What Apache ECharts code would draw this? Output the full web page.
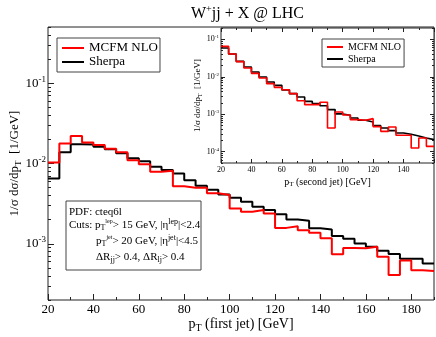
<!DOCTYPE html>
<html><head><meta charset="utf-8">
<script src="https://cdn.jsdelivr.net/npm/echarts@6/dist/echarts.min.js"></script>
<style>html,body{margin:0;padding:0;background:#fff}#c{width:436px;height:337px}</style>
</head><body><div id="c"></div>
<script>
// ---- data ----
const mainEdges = [20,25,30,35,40,45,50,55,60,65,70,75,80,85,90,95,100,105,110,115,120,125,130,135,140,145,150,155,160,165,170,175,180,185,190];
const mainMCFM = [0.0103,0.0178,0.0220,0.0183,0.0170,0.0153,0.0138,0.0110,0.0098,0.0079,0.0081,0.0052,0.0050,0.0050,0.00425,0.00405,0.00276,0.00251,0.00263,0.00239,0.00158,0.00166,0.00148,0.00137,0.00117,0.00074,0.00089,0.00088,0.00092,0.00069,0.00041,0.00062,0.00047,0.00046];
const mainSherpa = [0.0065,0.0138,0.0173,0.0172,0.0162,0.0150,0.0134,0.0116,0.0107,0.0091,0.0083,0.0075,0.0062,0.0053,0.0047,0.0041,0.00374,0.00334,0.00289,0.00263,0.00234,0.00201,0.00194,0.00156,0.00151,0.00125,0.00116,0.00101,0.00092,0.00082,0.000745,0.00065,0.00065,0.00057];
const insetEdges = [20,25,30,35,40,45,50,55,60,65,70,75,80,85,90,95,100,105,110,115,120,125,130,135,140,145,150,155,160];
const insetMCFM = [0.0648,0.0404,0.0253,0.0171,0.01234,0.00926,0.00654,0.00522,0.00452,0.00354,0.00230,0.00180,0.00180,0.00208,0.00043,0.00115,0.000955,0.000717,0.000689,0.000763,0.000467,0.000350,0.000457,0.000274,0.000274,0.000126,0.000233,0.000139];
const insetSherpa = [0.0584,0.0404,0.0258,0.0182,0.01338,0.00985,0.00725,0.00590,0.00443,0.00354,0.00288,0.00221,0.00192,0.00169,0.00133,0.00102,0.000935,0.000794,0.000689,0.000621,0.000496,0.000430,0.000365,0.000316,0.000291,0.000263,0.000233,0.000210];
const seriesNames = ['MCFM NLO','Sherpa'];
const mainXTicks = [20,40,60,80,100,120,140,160,180];
const mainXMinor = [30,50,70,90,110,130,150,170,190];
const mainYTicks = [1e-3,1e-2,1e-1];
const insetXTicks = [20,40,60,80,100,120,140,160];
const insetXMinor = [30,50,70,90,110,130,150];
const insetXLabels = [20,40,60,80,100,120,140];
const insetYTicks = [1e-4,1e-3,1e-2,1e-1];

const F = 'Liberation Serif';
const FRAME = '#222';
function logMinor(lo, hi){ const out=[]; for(let e=lo;e<=hi;e++){ for(let m=2;m<=9;m++){ out.push(m*Math.pow(10,e)); } } return out; }
function stepData(edges, vals){ const d = vals.map((v,i)=>[edges[i], v]); d.push([edges[edges.length-1], vals[vals.length-1]]); return d; }
function powLabel(v){ const e = Math.round(Math.log10(v)); return '{b|10}{s|' + e + '}'; }
function numLabel(v){ return '{v|' + v + '}'; }

const chart = echarts.init(document.getElementById('c'), null, {renderer:'canvas'});
const base = {type:'value', axisLine:{onZero:false, lineStyle:{color:FRAME, width:1}}, splitLine:{show:false}, nameMoveOverlap:false};
function xAx(grid, min, max, pos, ticks, len, labels, fs, extra){
  return Object.assign({}, base, {gridIndex:grid, min:min, max:max, position:pos,
    axisLine:{show:false, onZero:false},
    axisTick:{show:true, inside:true, length:len, customValues:ticks, lineStyle:{color:FRAME, width:1}},
    axisLabel: labels ? {show:true, customValues:labels, fontFamily:F, fontSize:fs, color:'#000', margin:3,
      formatter:numLabel, rich:{v:{fontFamily:F, fontSize:fs, color:'#000'}}} : {show:false}
  }, extra||{});
}
function yAx(grid, min, max, pos, ticks, len, labels, fs, extra){
  return Object.assign({}, base, {type:'log', logBase:10, gridIndex:grid, min:min, max:max, position:pos,
    axisLine:{show:false, onZero:false},
    axisTick:{show:true, inside:true, length:len, customValues:ticks, lineStyle:{color:FRAME, width:1}},
    axisLabel: labels ? {show:true, customValues:labels, margin:2, formatter:powLabel, fontFamily:F,
      rich:{b:{fontFamily:F, fontSize:fs, color:'#000'}, s:{fontFamily:F, fontSize:Math.round(fs*0.68), color:'#000', padding:[0,0,Math.round(fs*0.6),0]}}} : {show:false}
  }, extra||{});
}
const nameRich = (fs)=>({n:{fontFamily:F, fontSize:fs, color:'#000'}, sub:{fontFamily:F, fontSize:Math.round(fs*0.7), color:'#000', padding:[Math.round(fs*0.5),0,0,0]}});

const mainYMin = 2e-4, mainYMax = 0.5, insetYMin = 5e-5, insetYMax = 0.2;

const option = {
  animation:false,
  backgroundColor:'#fff',
  textStyle:{fontFamily:F, color:'#000'},
  title:{text:'W{s|+}jj + X @ LHC', left:186, top:-1,
    textStyle:{fontFamily:F, fontSize:16, fontWeight:'normal', color:'#000',
      rich:{s:{fontFamily:F, fontSize:10, color:'#000', padding:[0,0,9,0]}}}},
  grid:[
    {left:48, top:27, width:386, height:273, show:true, borderColor:FRAME, borderWidth:1, backgroundColor:'transparent', outerBoundsMode:'none', containLabel:false},
    {left:221, top:28, width:213, height:135, show:true, borderColor:FRAME, borderWidth:1, backgroundColor:'#fff', outerBoundsMode:'none', containLabel:false, z:5}
  ],
  legend:[
    {data:seriesNames, left:57, top:38, orient:'vertical', padding:[3,2,3,5], icon:'rect', itemWidth:22, itemHeight:2, itemGap:0,
     formatter:'{n|{name}}',
     borderColor:'#444', borderWidth:1, backgroundColor:'#fff', textStyle:{fontFamily:F, fontSize:13, color:'#000', lineHeight:14, rich:{n:{fontFamily:F, fontSize:13, color:'#000', lineHeight:14}}}},
    {data:seriesNames, left:322, top:39, orient:'vertical', padding:[2,3,2,5], icon:'rect', itemWidth:16, itemHeight:2, itemGap:0,
     formatter:'{n|{name}}',
     borderColor:'#444', borderWidth:1, backgroundColor:'#fff', textStyle:{fontFamily:F, fontSize:10, color:'#000', lineHeight:12, rich:{n:{fontFamily:F, fontSize:10, color:'#000', lineHeight:12}}}, z:20}
  ],
  xAxis:[
    xAx(0,20,190,'bottom',mainXTicks,6,mainXTicks,13,{name:'{n|p}{sub|T}{n| (first jet) [GeV]}', nameLocation:'middle', nameGap:16, nameTextStyle:{fontFamily:F, rich:nameRich(14)}}),
    xAx(0,20,190,'bottom',mainXMinor,3,null,13),
    xAx(1,20,160,'bottom',insetXTicks,4,insetXLabels,8,{name:'{n|p}{sub|T}{n| (second jet) [GeV]}', nameLocation:'middle', nameGap:13, nameTextStyle:{fontFamily:F, rich:nameRich(10)}, z:6}),
    xAx(1,20,160,'bottom',insetXMinor,2,null,8,{z:6}),
    xAx(1,20,160,'top',insetXTicks,4,null,8,{z:6}),
    xAx(1,20,160,'top',insetXMinor,2,null,8,{z:6})
  ],
  yAxis:[
    yAx(0,mainYMin,mainYMax,'left',mainYTicks,6,mainYTicks,13,{name:'{n|1/σ dσ/dp}{sub|T}{n|  [1/GeV]}', nameLocation:'middle', nameGap:25, nameTextStyle:{fontFamily:F, rich:nameRich(13)}}),
    yAx(0,mainYMin,mainYMax,'left',logMinor(-4,-1),3,null,13),
    yAx(1,insetYMin,insetYMax,'left',insetYTicks,4,insetYTicks,8,{name:'{n|1/σ dσ/dp}{sub|T}{n|  [1/GeV]}', nameLocation:'middle', nameGap:18, nameTextStyle:{fontFamily:F, rich:nameRich(9)}, z:6}),
    yAx(1,insetYMin,insetYMax,'left',logMinor(-5,-1),2,null,8,{z:6}),
    yAx(1,insetYMin,insetYMax,'right',insetYTicks,4,null,8,{z:6}),
    yAx(1,insetYMin,insetYMax,'right',logMinor(-5,-1),2,null,8,{z:6})
  ],
  series:[
    {type:'line', name:'Sherpa', xAxisIndex:0, yAxisIndex:0, step:'end', symbol:'none', data:stepData(mainEdges, mainSherpa), lineStyle:{color:'#000', width:2}, itemStyle:{color:'#000'}, z:2},
    {type:'line', name:'MCFM NLO', xAxisIndex:0, yAxisIndex:0, step:'end', symbol:'none', data:stepData(mainEdges, mainMCFM), lineStyle:{color:'#ff0000', width:2}, itemStyle:{color:'#ff0000'}, z:3},
    {type:'line', name:'Sherpa', xAxisIndex:2, yAxisIndex:2, step:'end', symbol:'none', data:stepData(insetEdges, insetSherpa), lineStyle:{color:'#000', width:1.6}, itemStyle:{color:'#000'}, z:7},
    {type:'line', name:'MCFM NLO', xAxisIndex:2, yAxisIndex:2, step:'end', symbol:'none', data:stepData(insetEdges, insetMCFM), lineStyle:{color:'#ff0000', width:1.6}, itemStyle:{color:'#ff0000'}, z:8}
  ],
  graphic:[
    {type:'rect', shape:{x:66, y:201, width:135, height:69}, style:{fill:'#fff', stroke:'#444', lineWidth:1}, z:10},
    {type:'text', x:69, y:212, z:11, style:{text:'{n|PDF: cteq6l}', verticalAlign:'middle', rich:boxRich()}},
    {type:'text', x:69, y:225, z:11, style:{text:'{n|Cuts: p}{sub|T}{tiny|lep}{n|> 15 GeV, |η}{sup|lep}{n||<2.4}', verticalAlign:'middle', rich:boxRich()}},
    {type:'text', x:96, y:241, z:11, style:{text:'{n|p}{sub|T}{tiny|jet}{n|> 20 GeV, |η}{sup|jet}{n||<4.5}', verticalAlign:'middle', rich:boxRich()}},
    {type:'text', x:96, y:257, z:11, style:{text:'{n|ΔR}{sub|jj}{n|> 0.4, ΔR}{sub|lj}{n|> 0.4}', verticalAlign:'middle', rich:boxRich()}}
  ]
};
function boxRich(){ return {
  n:{fontFamily:F, fontSize:11, fill:'#000', color:'#000'},
  sub:{fontFamily:F, fontSize:8, fill:'#000', color:'#000', padding:[6,0,0,0]},
  sup:{fontFamily:F, fontSize:8, fill:'#000', color:'#000', padding:[0,0,7,0]},
  tiny:{fontFamily:F, fontSize:6, fill:'#000', color:'#000', padding:[0,0,8,0]}
}; }
chart.setOption(option);
</script>
</body></html>
